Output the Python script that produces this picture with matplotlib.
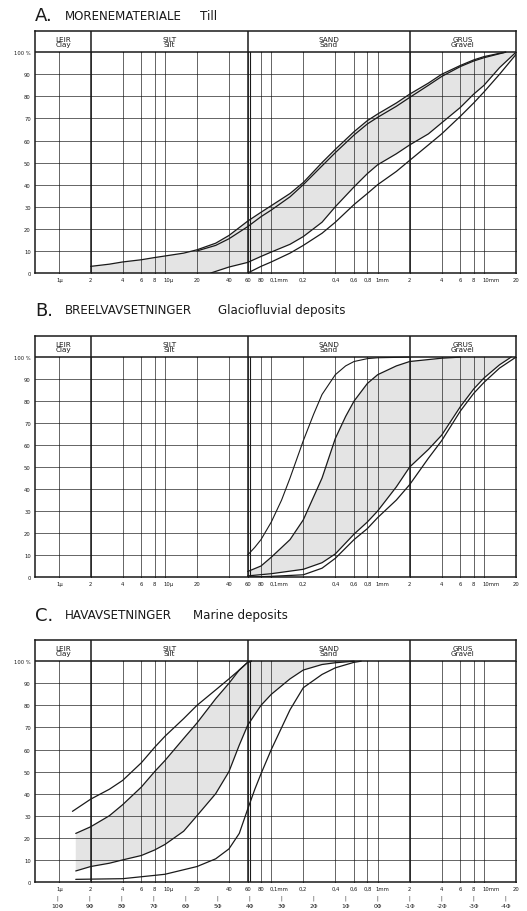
import matplotlib.pyplot as plt
import matplotlib.transforms as mtransforms

# Kornfordelingskurver - grain size distribution, three panels

# x-akse: kornstørrelse i mm (log), y-akse: prosent gjennomgang
grid_x = [0.001, 0.002, 0.004, 0.006, 0.008, 0.01, 0.02, 0.04, 0.06, 0.08,
          0.1, 0.2, 0.4, 0.6, 0.8, 1, 2, 4, 6, 8, 10, 20]
tick_labels = ['1µ', '2', '4', '6', '8', '10µ', '20', '40', '60', '80',
               '0,1mm', '0,2', '0,4', '0,6', '0,8', '1mm', '2', '4', '6', '8', '10mm', '20']
y_ticks = [0, 10, 20, 30, 40, 50, 60, 70, 80, 90, 100]
y_labels = ['0', '10', '20', '30', '40', '50', '60', '70', '80', '90', '100 %']
fractions = [('LEIR\nClay', 0.0011), ('SILT\nSilt', 0.011), ('SAND\nSand', 0.346), ('GRUS\nGravel', 6.3)]
phi_values = [10, 9, 8, 7, 6, 5, 4, 3, 2, 1, 0, -1, -2, -3, -4]

# A. Morene
a_up1_d = [0.002, 0.003, 0.004, 0.006, 0.008, 0.01, 0.015, 0.02, 0.03, 0.04, 0.06, 0.08, 0.1,
           0.15, 0.2, 0.3, 0.4, 0.6, 0.8, 1, 1.5, 2, 3, 4, 6, 8, 10, 14, 16]
a_up1_p = [3, 4, 5, 6, 7, 7.7, 9, 10.5, 13.5, 17, 23.5, 27.5, 30.5,
           36, 41, 50, 56, 64, 69, 72, 77, 81, 86, 90, 94, 96.5, 98, 99.5, 100]
a_up2_d = [0.02, 0.03, 0.04, 0.06, 0.08, 0.1, 0.15, 0.2, 0.3, 0.4, 0.6, 0.8, 1,
           1.5, 2, 3, 4, 6, 8, 10, 14, 16]
a_up2_p = [10, 12.5, 15.5, 21, 25.5, 28.5, 34.5, 40, 48.5, 54.5, 62.5, 67.5, 70.5,
           75.5, 79.5, 85, 89, 93.5, 96, 97.5, 99.3, 100]
a_mid_d = [0.027, 0.04, 0.06, 0.08, 0.1, 0.15, 0.2, 0.3, 0.4, 0.6, 0.8, 1, 1.5,
           2, 3, 4, 6, 8, 10, 14, 20]
a_mid_p = [0, 2.7, 4.8, 7.5, 9.5, 13, 16.5, 23, 30, 39, 45, 49, 54,
           58, 63, 68, 75, 81, 85, 93, 100]
a_low_d = [0.06, 0.08, 0.1, 0.15, 0.2, 0.3, 0.4, 0.6, 0.8, 1, 1.5, 2, 3, 4, 6, 8, 10, 14, 20]
a_low_p = [0, 3, 5, 9, 12.5, 18, 23, 31, 36, 40, 46, 51, 58, 63, 71, 77, 82, 90, 99]

# B. Breelvavsetninger
b1_d = [0.06, 0.07, 0.08, 0.1, 0.125, 0.15, 0.2, 0.25, 0.3, 0.4, 0.5, 0.6, 0.8, 1, 2]
b1_p = [10, 13.5, 17, 25, 35, 45, 62, 74, 83, 92, 96, 98, 99.3, 99.7, 100]
b2_d = [0.06, 0.08, 0.1, 0.15, 0.2, 0.3, 0.4, 0.5, 0.6, 0.8, 1, 1.5, 2, 4, 6]
b2_p = [2.5, 5, 9, 17, 26, 45, 63, 73, 80, 88, 92, 96, 98, 99.5, 100]
b3_d = [0.06, 0.1, 0.2, 0.3, 0.4, 0.6, 0.8, 1, 1.5, 2, 3, 4, 6, 8, 10, 14, 18]
b3_p = [0.5, 1.5, 3.5, 6.5, 10.5, 19.5, 25, 30, 41, 50, 58, 64.5, 77.5, 85.5, 90.5, 96.5, 100]
b4_d = [0.06, 0.1, 0.2, 0.3, 0.4, 0.6, 0.8, 1, 1.5, 2, 3, 4, 6, 8, 10, 14, 20]
b4_p = [0, 0.3, 1, 4, 8.5, 17, 22, 27, 35, 42, 54, 62, 75.5, 83.5, 88.5, 95, 100]

# C. Havavsetninger
c1_d = [0.00135, 0.002, 0.003, 0.004, 0.006, 0.008, 0.01, 0.015, 0.02, 0.03, 0.04, 0.05, 0.06, 0.065]
c1_p = [32, 37.5, 42, 46, 54, 61, 66, 74, 80, 87, 92, 96, 99.5, 100]
c2_d = [0.00145, 0.002, 0.003, 0.004, 0.006, 0.008, 0.01, 0.015, 0.02, 0.03, 0.04, 0.05, 0.06, 0.065]
c2_p = [22, 25, 30, 35, 43, 50, 55, 65, 72, 83, 90, 96, 99.5, 100]
c3_d = [0.00145, 0.002, 0.003, 0.004, 0.006, 0.008, 0.01, 0.015, 0.02, 0.03, 0.04, 0.05, 0.06,
        0.08, 0.1, 0.15, 0.2, 0.3, 0.4, 0.6]
c3_p = [5, 7, 8.5, 10, 12, 14.5, 17, 23, 30, 40, 50, 62, 71, 80, 85, 92, 96, 98.5, 99.3, 100]
c4_d = [0.00145, 0.004, 0.008, 0.01, 0.02, 0.03, 0.04, 0.05, 0.06, 0.07, 0.08, 0.1, 0.15,
        0.2, 0.3, 0.4, 0.6, 0.7]
c4_p = [1.2, 1.5, 3, 3.5, 7, 10.5, 15, 22, 33, 42, 49, 60, 78, 88, 94, 97, 99.5, 100]

TOP = 109.6
INK = '#1a1a1a'
SHADE = '#e4e4e4'

W, H = 527, 912
fig = plt.figure(figsize=(W / 100, H / 100), dpi=100)
nudge = mtransforms.ScaledTranslation(-2 / 100, 0, fig.dpi_scale_trans)


def panel(top_px, bottom_px):
    ax = fig.add_axes([35 / W, 1 - bottom_px / H, 481 / W, (bottom_px - top_px) / H])
    ax.set_xscale('log')
    ax.set_xlim(0.0006, 20)
    ax.set_ylim(0, TOP)
    ax.set_xticks(grid_x)
    ax.set_xticklabels(tick_labels, fontsize=3.8, color=INK)
    ax.minorticks_off()
    ax.set_yticks(y_ticks)
    ax.set_yticklabels(y_labels, fontsize=3.8, color=INK)
    ax.tick_params(length=0, pad=3)
    # tall med enhet starter ved streken
    for lab in ax.get_xticklabels():
        if 'm' in lab.get_text() or 'µ' in lab.get_text():
            lab.set_horizontalalignment('left')
            lab.set_transform(lab.get_transform() + nudge)
    for s in ax.spines.values():
        s.set_linewidth(1.1)
        s.set_color(INK)
    # rutenett
    for x in grid_x:
        ax.plot([x, x], [0, 100], color='#3a3a3a', lw=0.55, zorder=2)
    for y in y_ticks[1:-1]:
        ax.plot([0.0006, 20], [y, y], color='#3a3a3a', lw=0.55, zorder=2)
    for y in y_ticks:
        ax.plot(grid_x, [y] * len(grid_x), ls='none', marker='o', ms=0.9,
                color='#333333', mew=0, zorder=2)
    ax.plot([0.0006, 20], [100, 100], color=INK, lw=1.1, zorder=3)
    # fraksjonsgrenser
    for x in [0.002, 0.06, 2]:
        ax.plot([x, x], [0, TOP], color=INK, lw=1.1, zorder=3)
    ax.plot([0.0625, 0.0625], [0, 100], color=INK, lw=0.8, zorder=3)
    for label, xc in fractions:
        ax.text(xc, 104.8, label, ha='center', va='center', fontsize=5.2,
                linespacing=0.85, color=INK)
    return ax


def title(y_px, letter, norsk, eng, eng_x):
    fig.text(35 / W, 1 - y_px / H, letter, fontsize=13, va='center', color=INK)
    fig.text(65 / W, 1 - y_px / H, norsk, fontsize=8.6, va='center', color=INK)
    fig.text(eng_x / W, 1 - y_px / H, eng, fontsize=8.6, va='center', color=INK)


def curve(ax, d, p, lw=0.9):
    ax.plot(d, p, color=INK, lw=lw, zorder=4, solid_capstyle='round')


# A
title(16, 'A.', 'MORENEMATERIALE', 'Till', 200)
ax_a = panel(32, 274)
ax_a.fill(a_up1_d + [20] + a_mid_d[::-1] + [0.002],
          a_up1_p + [100] + a_mid_p[::-1] + [0], color=SHADE, lw=0, zorder=1)
curve(ax_a, a_up1_d, a_up1_p)
curve(ax_a, a_up2_d, a_up2_p)
curve(ax_a, a_mid_d, a_mid_p)
curve(ax_a, a_low_d, a_low_p)

# B
title(311, 'B.', 'BREELVAVSETNINGER', 'Glaciofluvial deposits', 218)
ax_b = panel(337, 578)
ax_b.fill(b2_d + b3_d[::-1], b2_p + b3_p[::-1], color=SHADE, lw=0, zorder=1)
curve(ax_b, b1_d, b1_p, lw=0.8)
curve(ax_b, b2_d, b2_p)
curve(ax_b, b3_d, b3_p)
curve(ax_b, b4_d, b4_p)

# C
title(616, 'C.', 'HAVAVSETNINGER', 'Marine deposits', 193)
ax_c = panel(641, 883)
ax_c.fill(c2_d + [0.6] + c3_d[::-1], c2_p + [100] + c3_p[::-1], color=SHADE, lw=0, zorder=1)
curve(ax_c, c1_d, c1_p)
curve(ax_c, c2_d, c2_p)
curve(ax_c, c3_d, c3_p)
curve(ax_c, c4_d, c4_p)

# phi-skala under C
trans = ax_c.get_xaxis_transform()
for phi in phi_values:
    x = 2.0 ** (-phi)
    ax_c.text(x, -0.062, '|', transform=trans, ha='center', va='center', fontsize=3.5, color=INK)
    ax_c.text(x, -0.096, f'{phi}Φ', transform=trans, ha='center', va='center', fontsize=4.3, color=INK)

fig.savefig('out.png', dpi=100, facecolor='white')
